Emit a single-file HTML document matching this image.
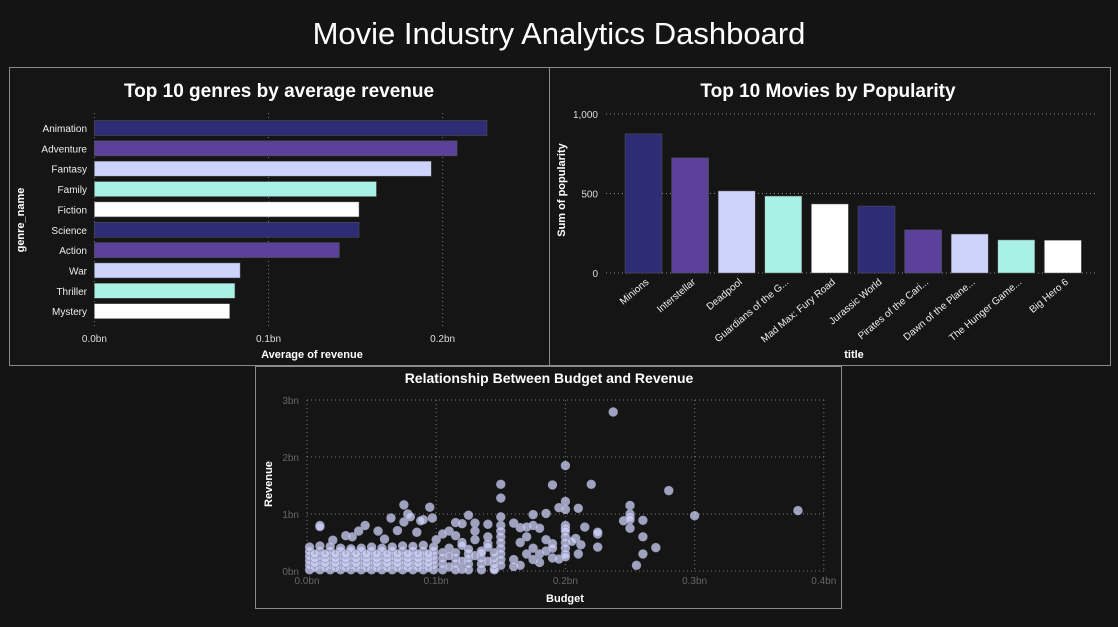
<!DOCTYPE html>
<html><head><meta charset="utf-8"><title>Movie Industry Analytics Dashboard</title>
<style>
html,body{margin:0;padding:0;background:#141414;width:1118px;height:627px;overflow:hidden;font-family:"Liberation Sans","DejaVu Sans",sans-serif;}
svg{position:absolute;left:0;top:0;}
</style></head>
<body>
<svg id="dash" width="1118" height="627" xmlns="http://www.w3.org/2000/svg">
<rect x="0" y="0" width="1118" height="627" fill="#141414"/>
<text x="559" y="44" text-anchor="middle" fill="#ffffff" font-size="31">Movie Industry Analytics Dashboard</text>
<rect x="9.5" y="67.5" width="540" height="298" fill="#151515" stroke="#8a8a8a"/>
<rect x="549.5" y="67.5" width="561" height="298" fill="#151515" stroke="#8a8a8a"/>
<rect x="255.5" y="366.5" width="586" height="242" fill="#151515" stroke="#8a8a8a"/>
<text x="279" y="97" text-anchor="middle" fill="#fff" font-size="19" font-weight="bold">Top 10 genres by average revenue</text>
<text x="828" y="97" text-anchor="middle" fill="#fff" font-size="19" font-weight="bold">Top 10 Movies by Popularity</text>
<text x="549" y="383" text-anchor="middle" fill="#fff" font-size="14" font-weight="bold">Relationship Between Budget and Revenue</text>
<text x="24" y="220" text-anchor="middle" fill="#fff" font-size="11" font-weight="bold" transform="rotate(-90 24 220)">genre_name</text>
<text x="312" y="358" text-anchor="middle" fill="#fff" font-size="11" font-weight="bold">Average of revenue</text>
<text x="565" y="190" text-anchor="middle" fill="#fff" font-size="11" font-weight="bold" transform="rotate(-90 565 190)">Sum of popularity</text>
<text x="854" y="358" text-anchor="middle" fill="#fff" font-size="11" font-weight="bold">title</text>
<text x="272" y="484" text-anchor="middle" fill="#fff" font-size="11" font-weight="bold" transform="rotate(-90 272 484)">Revenue</text>
<text x="565" y="602" text-anchor="middle" fill="#fff" font-size="11" font-weight="bold">Budget</text>
<g id="g1"></g><g id="g2"></g><g id="g3"></g>
</svg>
<script>
const genres=["Animation","Adventure","Fantasy","Family","Fiction","Science","Action","War","Thriller","Mystery"];
const genreRevenueBn=[0.2255,0.2083,0.1935,0.162,0.152,0.152,0.1407,0.0837,0.0807,0.0777];
const genreTicks=[0,0.1,0.2];
const genreTickLabels=["0.0bn","0.1bn","0.2bn"];
const movies=["Minions","Interstellar","Deadpool","Guardians of the G...","Mad Max: Fury Road","Jurassic World","Pirates of the Cari...","Dawn of the Plane...","The Hunger Game...","Big Hero 6"];
const popularity=[875,724,516,484,434,421,271,245,208,206];
const popTicks=[0,500,1000];
const popTickLabels=["0","500","1,000"];
const scatterXTicks=[0,0.1,0.2,0.3,0.4];
const scatterXLabels=["0.0bn","0.1bn","0.2bn","0.3bn","0.4bn"];
const scatterYTicks=[0,1,2,3];
const scatterYLabels=["0bn","1bn","2bn","3bn"];
// [budget in millions, revenue in millions]
const scatterPoints=[
[237,2790],[200,1850],[150,1520],[190,1510],[220,1520],[150,1280],[280,1410],[200,1220],[75,1160],[95,1120],[250,1150],[195,1110],[210,1100],[200,1080],[380,1060],[300,970],[125,980],[175,990],[185,1010],[78,1000],[80,950],[150,950],[245,880],[260,890],[200,800],[200,750],[200,700],[215,770],[225,650],[225,680],[225,420],[260,600],[270,410],[255,100],[260,300],[210,300],[190,230],[195,210],[208,570],[212,460],[250,1000],[250,950],[250,900],[250,750],[10,800],[10,780],[45,800],[65,930],[55,700],[30,620],[40,700],[70,710],[85,680],[90,900],[115,850],[120,830],[130,840],[140,820],[160,840],[165,760],[170,770],[175,800],[180,750],[150,800],[150,700],[150,600],[150,500],[150,400],[150,300],[150,200],[150,100],[160,200],[160,80],[140,600],[130,550],[120,500],[110,700],[105,650],[175,400],[175,200],[180,300],[185,550],[170,600],[145,40],[120,30],[200,600],[200,500],[200,400],[200,300],[200,250],[205,520],[130,700],[100,550],[110,400],[125,300],[135,350],[165,500],[185,350],[190,480],[97,930],[60,560],[20,540],[35,600],[75,860],[88,880],[115,620],[140,480],
[2,20],[2,100],[2,180],[2,260],[2,340],[2,420],[10,20],[10,100],[10,180],[10,260],[10,340],[10,440],[18,20],[18,100],[18,180],[18,260],[18,340],[18,430],[26,20],[26,100],[26,180],[26,260],[26,340],[26,400],[34,20],[34,100],[34,180],[34,260],[34,340],[34,390],[42,20],[42,100],[42,180],[42,260],[42,340],[42,400],[50,20],[50,100],[50,180],[50,260],[50,340],[50,420],[58,20],[58,100],[58,180],[58,260],[58,340],[58,400],[66,20],[66,100],[66,180],[66,260],[66,340],[66,420],[74,20],[74,100],[74,180],[74,260],[74,340],[74,440],[82,20],[82,100],[82,180],[82,260],[82,340],[82,430],[90,20],[90,100],[90,180],[90,260],[90,340],[90,450],[98,20],[98,100],[98,180],[98,260],[98,340],[98,420],
[6,60],[6,140],[6,220],[6,300],[14,60],[14,140],[14,220],[14,300],[22,60],[22,140],[22,220],[22,300],[30,60],[30,140],[30,220],[30,300],[38,60],[38,140],[38,220],[38,300],[46,60],[46,140],[46,220],[46,300],[54,60],[54,140],[54,220],[54,300],[62,60],[62,140],[62,220],[62,300],[70,60],[70,140],[70,220],[70,300],[78,60],[78,140],[78,220],[78,300],[86,60],[86,140],[86,220],[86,300],[94,60],[94,140],[94,220],[94,300],
[105,20],[105,120],[105,220],[105,320],[115,20],[115,120],[115,220],[115,320],[125,20],[125,120],[125,220],[125,380],[135,20],[135,120],[135,220],[135,320],[145,20],[145,120],[145,220],[145,320],[165,100],[170,300],[180,150],[190,400],[120,450],[140,420],[110,70],[120,170],[130,270],[140,170],[110,270]
];
const colors=["#2e2c75","#5b4199","#cdd3fb","#aaf1e5","#ffffff"];
const NS="http://www.w3.org/2000/svg";
function mk(tag,attrs,parent,txt){const e=document.createElementNS(NS,tag);for(const k in attrs)e.setAttribute(k,attrs[k]);if(txt!==undefined)e.textContent=txt;parent.appendChild(e);return e;}

// Chart 1
const g1=document.getElementById('g1');
const x1=v=>94.4+v*1741;
const y1=i=>128+i*20.35;
genreTicks.forEach((t,i)=>{
  const l=mk('line',{x1:x1(t),x2:x1(t),y1:113,y2:328,stroke:'#777','stroke-dasharray':'1,3'},g1);
  
  
  const tx=mk('text',{x:x1(t),y:342,'text-anchor':'middle',fill:'#ddd','font-size':10},g1,genreTickLabels[i]);
  
  
});
genres.forEach((g,i)=>{
  const b=mk('rect',{x:x1(0),y:y1(i)-7.5,width:x1(genreRevenueBn[i])-x1(0),height:15,fill:colors[i%5],stroke:'#555','stroke-width':0.5},g1);
  
  
  const t=mk('text',{x:87,y:y1(i)+4,'text-anchor':'end',fill:'#eee','font-size':10},g1,g);
  
  
});

// Chart 2
const g2=document.getElementById('g2');
const y2=v=>273-v*0.159;
const x2=i=>643.5+i*46.6;
popTicks.forEach((t,i)=>{
  const l=mk('line',{x1:606,x2:1098,y1:y2(t),y2:y2(t),stroke:'#888','stroke-dasharray':'1,3'},g2);
  
  
  const tx=mk('text',{x:598,y:y2(t)+4,'text-anchor':'end',fill:'#ddd','font-size':10},g2,popTickLabels[i]);
  
  
});
movies.forEach((m,i)=>{
  const b=mk('rect',{x:x2(i)-18.5,y:y2(popularity[i]),width:37,height:y2(0)-y2(popularity[i]),fill:colors[i%5],stroke:'#555','stroke-width':0.5},g2);
  
  
  const cx=x2(i)+6,cy=283;
  const t=mk('text',{x:cx,y:cy,'text-anchor':'end',fill:'#eee','font-size':10,transform:'rotate(-40 '+cx+' '+cy+')'},g2,m);
  
  
});

// Chart 3
const g3=document.getElementById('g3');
const x3=v=>307+v*1292;
const y3=v=>571-v*57;
scatterXTicks.forEach((t,i)=>{
  const l=mk('line',{x1:x3(t),x2:x3(t),y1:400,y2:571,stroke:'#777','stroke-dasharray':'1,3'},g3);
  
  
  const tx=mk('text',{x:x3(t),y:584,'text-anchor':'middle',fill:'#666','font-size':10},g3,scatterXLabels[i]);
  
  
});
scatterYTicks.forEach((t,i)=>{
  const l=mk('line',{x1:307,x2:824,y1:y3(t),y2:y3(t),stroke:'#777','stroke-dasharray':'1,3'},g3);
  
  
  const tx=mk('text',{x:299,y:y3(t)+4,'text-anchor':'end',fill:'#666','font-size':10},g3,scatterYLabels[i]);
  
  
});
scatterPoints.forEach(p=>{
  const c=mk('circle',{cx:x3(p[0]/1000),cy:y3(p[1]/1000),r:4.3,fill:'#cdd1f8','fill-opacity':0.75,stroke:'#9a9cb8','stroke-width':0.8},g3);
  
  
});
</script>
</body></html>
